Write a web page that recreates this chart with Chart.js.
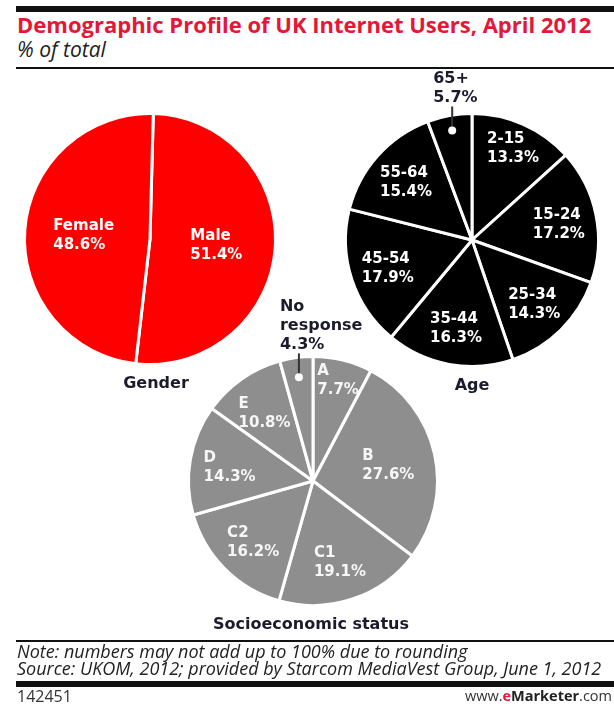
<!DOCTYPE html>
<html>
<head>
<meta charset="utf-8">
<script src="https://cdn.jsdelivr.net/npm/chart.js@4.4.1/dist/chart.umd.min.js"></script>
<style>
  body { margin: 0; background: #fff; width: 614px; height: 721px; position: relative; overflow: hidden; font-family: 'Open Sans', sans-serif; }
  canvas { position: absolute; left: 0; top: 0; }
  .rule { position: absolute; left: 16px; right: 0; background: #111; }
  .txt { position: absolute; line-height: 1; white-space: nowrap; }
  #title { left: 17px; top: 13px; font-size: 22px; font-weight: 700; color: #e31837; }
  #sub { left: 17px; top: 38.5px; font-size: 21px; font-style: italic; color: #222; }
  #note { left: 17px; top: 642px; font-size: 18px; font-style: italic; color: #222; }
  #source { left: 17px; top: 659px; font-size: 18px; font-style: italic; color: #222; }
  #id { left: 17px; top: 688px; font-size: 16px; color: #333; }
  #brand { right: 2px; top: 689px; font-size: 14.5px; color: #333; }
  #brand b { color: #222; }
  #brand .e { color: #e31837; font-weight: 700; }
</style>
</head>
<body>
<div class="rule" style="top:6px;height:6px"></div>
<div class="txt" id="title">Demographic Profile of UK Internet Users, April 2012</div>
<div class="txt" id="sub">% of total</div>
<div class="rule" style="top:67px;height:2px"></div>

<canvas id="gender" width="614" height="721"></canvas>
<canvas id="age" width="614" height="721"></canvas>
<canvas id="status" width="614" height="721"></canvas>

<div class="rule" style="top:640px;height:1.5px"></div>
<div class="txt" id="note">Note: numbers may not add up to 100% due to rounding</div>
<div class="txt" id="source">Source: UKOM, 2012; provided by Starcom MediaVest Group, June 1, 2012</div>
<div class="rule" style="top:681px;height:6px"></div>
<div class="txt" id="id">142451</div>
<div class="txt" id="brand">www.<span class="e">e</span><b>Marketer</b>.com</div>

<script>
// Data
const genderLabels = ['Male', 'Female'];
const genderValues = [51.4, 48.6];

const ageLabels = ['2-15', '15-24', '25-34', '35-44', '45-54', '55-64', '65+'];
const ageValues = [13.3, 17.2, 14.3, 16.3, 17.9, 15.4, 5.7];

const statusLabels = ['A', 'B', 'C1', 'C2', 'D', 'E', 'No response'];
const statusValues = [7.7, 27.6, 19.1, 16.2, 14.3, 10.8, 4.3];

const W = 614, H = 721;
const LABEL_FONT = 'bold 15px "DejaVu Sans"';
const OUTER_FONT = 'bold 16px "DejaVu Sans"';
const LINE_H = 19;

// Draws the labels inside the slices, the callouts for small slices and the caption below
const sliceLabels = {
    id: 'sliceLabels',
    afterDatasetsDraw(chart, args, opts) {
        const ctx = chart.ctx;
        const meta = chart.getDatasetMeta(0);
        const cats = chart.data.labels;
        const vals = chart.data.datasets[0].data;
        let c = null;
        ctx.save();
        ctx.textAlign = 'left';
        ctx.textBaseline = 'alphabetic';
        meta.data.forEach((arc, i) => {
            const p = arc.getProps(['x', 'y', 'startAngle', 'endAngle', 'outerRadius'], true);
            c = p;
            const mid = (p.startAngle + p.endAngle) / 2;
            const pct = vals[i].toFixed(1) + '%';
            if (opts.outside.includes(i)) {
                const lines = [...cats[i].split(' '), pct];
                const dx = p.x + Math.cos(mid) * p.outerRadius * opts.dotRadius;
                const dy = p.y + Math.sin(mid) * p.outerRadius * opts.dotRadius;
                const lastBase = dy - 28;
                ctx.strokeStyle = '#333';
                ctx.lineWidth = 2;
                ctx.beginPath();
                ctx.moveTo(dx, dy);
                ctx.lineTo(dx, lastBase + 4);
                ctx.stroke();
                ctx.fillStyle = '#fff';
                ctx.beginPath();
                ctx.arc(dx, dy, 4, 0, Math.PI * 2);
                ctx.fill();
                ctx.font = OUTER_FONT;
                ctx.fillStyle = '#1b1b2b';
                lines.forEach((l, k) => {
                    ctx.fillText(l, dx - 19, lastBase - (lines.length - 1 - k) * LINE_H);
                });
            } else {
                const lines = [cats[i], pct];
                ctx.font = LABEL_FONT;
                const f = opts.radius[i] !== undefined ? opts.radius[i] : opts.defaultRadius;
                const lx = p.x + Math.cos(mid) * p.outerRadius * f;
                const ly = p.y + Math.sin(mid) * p.outerRadius * f;
                const w = Math.max(...lines.map(l => ctx.measureText(l).width));
                const top = ly - LINE_H * lines.length / 2;
                ctx.fillStyle = opts.color;
                lines.forEach((l, k) => ctx.fillText(l, lx - w / 2, top + LINE_H * (k + 1) - 4));
            }
        });
        ctx.font = OUTER_FONT;
        ctx.fillStyle = '#1b1b2b';
        ctx.textAlign = 'center';
        ctx.fillText(opts.caption, c.x + opts.captionShift, c.y + c.outerRadius + 23);
        ctx.restore();
    }
};

function makePie(id, labels, values, color, center, r, rotation, labelOpts) {
    new Chart(document.getElementById(id), {
        type: 'pie',
        data: {
            labels: labels,
            datasets: [{
                data: values,
                backgroundColor: color,
                borderColor: '#fff',
                borderWidth: 3,
                hoverOffset: 0
            }]
        },
        options: {
            responsive: false,
            animation: false,
            events: [],
            radius: r + 1.5,
            rotation: rotation,
            layout: {
                padding: {
                    left: center[0] - r,
                    right: W - center[0] - r,
                    top: center[1] - r,
                    bottom: H - center[1] - r
                }
            },
            plugins: {
                legend: { display: false },
                tooltip: { enabled: false },
                title: { display: false },
                sliceLabels: labelOpts
            }
        },
        plugins: [sliceLabels]
    });
}

makePie('gender', genderLabels, genderValues, '#ff0000', [150, 239], 124, 1.5, {
    color: '#fff', defaultRadius: 0.53, radius: {}, outside: [], dotRadius: 0.87,
    caption: 'Gender', captionShift: 6
});

makePie('age', ageLabels, ageValues, '#000000', [472, 240], 125, 0, {
    color: '#fff', defaultRadius: 0.7, radius: { 0: 0.8 }, outside: [6], dotRadius: 0.88,
    caption: 'Age', captionShift: 0
});

makePie('status', statusLabels, statusValues, '#8e8e8e', [313, 481], 123, 0, {
    color: '#f6f6f6', defaultRadius: 0.68, radius: { 0: 0.84, 1: 0.62 }, outside: [6], dotRadius: 0.84,
    caption: 'Socioeconomic status', captionShift: -2
});
</script>
</body>
</html>
